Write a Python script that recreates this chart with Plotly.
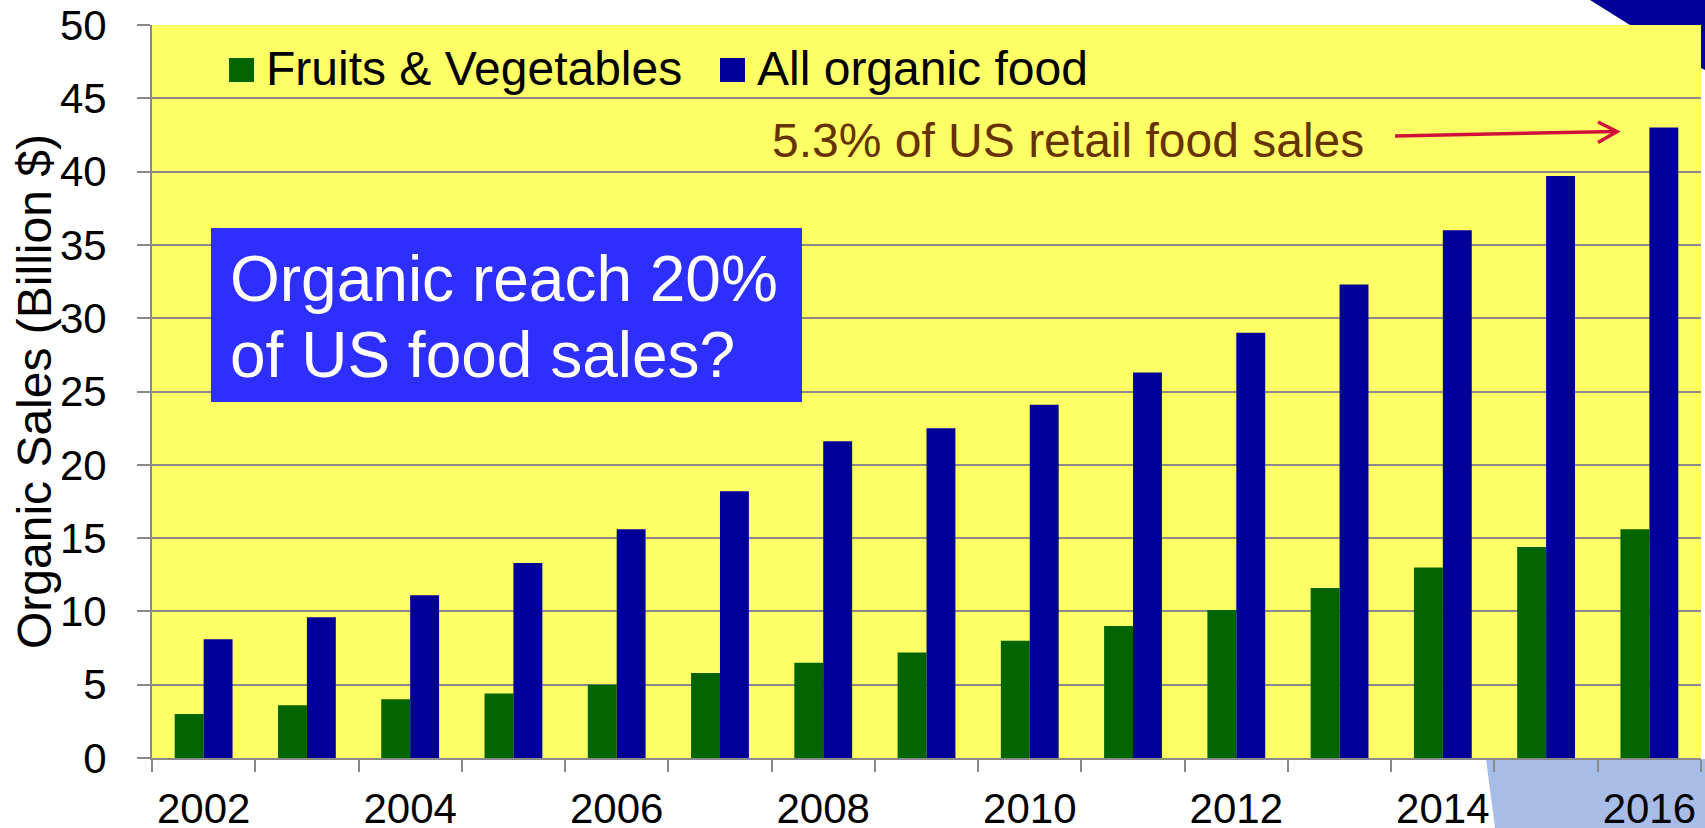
import plotly.graph_objects as go

# ---------------- data ----------------
years = [str(y) for y in range(2002, 2017)]
fruits_veg = [3.0, 3.6, 4.0, 4.4, 5.0, 5.8, 6.5, 7.2, 8.0, 9.0, 10.1, 11.6, 13.0, 14.4, 15.6]
all_organic = [8.1, 9.6, 11.1, 13.3, 15.6, 18.2, 21.6, 22.5, 24.1, 26.3, 29.0, 32.3, 36.0, 39.7, 43.0]
tick_text = [y if int(y) % 2 == 0 else "" for y in years]
y_ticks = list(range(0, 51, 5))

series_names = ["Fruits & Vegetables", "All organic food"]
series_colors = ["#006400", "#000099"]

W, H = 1705, 828
L, R, T, B = 152, 1701, 25, 758
FONT = "Liberation Sans, Arial, sans-serif"


def px(x):
    return (x - L) / (R - L)


def py(y):
    return (B - y) / (B - T)


fig = go.Figure()
for name, vals, col in zip(series_names, [fruits_veg, all_organic], series_colors):
    fig.add_trace(go.Bar(x=years, y=vals, name=name, marker_color=col,
                         marker_line_width=0, showlegend=False))

grid = "#8A8A8A"
fig.update_layout(
    width=W, height=H,
    margin=dict(l=L, r=W - R, t=T, b=H - B, autoexpand=False),
    paper_bgcolor="white",
    plot_bgcolor="#FFFF66",
    barmode="group",
    bargap=0.44,
    bargroupgap=0,
    font=dict(family=FONT, color="black"),
    xaxis=dict(
        type="category",
        tickmode="array", tickvals=years, ticktext=tick_text,
        tickson="boundaries",
        ticks="outside", ticklen=12, tickwidth=2, tickcolor=grid,
        showline=True, linecolor=grid, linewidth=2,
        showgrid=False, automargin=False, tickangle=0,
        tickfont=dict(size=42, family=FONT, color="black"),
        ticklabelstandoff=13,
    ),
    yaxis=dict(
        range=[0, 50],
        tickmode="array", tickvals=y_ticks,
        ticks="outside", ticklen=13, tickwidth=2, tickcolor=grid,
        showline=True, linecolor=grid, linewidth=2,
        showgrid=True, gridcolor=grid, gridwidth=2,
        zeroline=False, automargin=False,
        tickfont=dict(size=42, family=FONT, color="black"),
        ticklabelstandoff=22,
    ),
)

shapes = []
# dark blue corner triangle (top right, outside plot)
shapes.append(dict(type="path", xref="paper", yref="paper", layer="below",
                   path=f"M {px(1590)},{py(0)} L {px(1705)},{py(0)} L {px(1705)},{py(70)} "
                        f"L {px(1701)},{py(68)} L {px(1701)},{py(25)} L {px(1630)},{py(25)} Z",
                   fillcolor="#000099", line=dict(width=0)))
# light blue band bottom right
shapes.append(dict(type="path", xref="paper", yref="paper", layer="below",
                   path=f"M {px(1486)},{py(759)} L {px(1495)},{py(828)} L {px(1705)},{py(828)} "
                        f"L {px(1705)},{py(759)} Z",
                   fillcolor="#A8BCE8", line=dict(width=0)))
# question box
shapes.append(dict(type="rect", xref="paper", yref="paper", layer="above",
                   x0=px(211), x1=px(802), y0=py(228), y1=py(402),
                   fillcolor="#2E2EFF", line=dict(width=0)))
# legend swatches
for x0, col in zip([229, 720], series_colors):
    shapes.append(dict(type="rect", xref="paper", yref="paper", layer="above",
                       x0=px(x0), x1=px(x0 + 25), y0=py(58), y1=py(82),
                       fillcolor=col, line=dict(width=0)))
# red arrow
arrow_col = "#D0103A"
shapes.append(dict(type="line", xref="paper", yref="paper", layer="above",
                   x0=px(1395), y0=py(136), x1=px(1616), y1=py(131.5),
                   line=dict(color=arrow_col, width=3.5)))
shapes.append(dict(type="path", xref="paper", yref="paper", layer="above",
                   path=f"M {px(1598)},{py(122)} L {px(1617)},{py(131.5)} L {px(1598)},{py(142.5)}",
                   line=dict(color=arrow_col, width=3.5)))
fig.update_layout(shapes=shapes)

ann = []
# legend labels
for x0, name in zip([264, 755], series_names):
    ann.append(dict(x=px(x0), y=py(68.5), xref="paper", yref="paper", text=name,
                    showarrow=False, xanchor="left", yanchor="middle",
                    font=dict(size=48, family=FONT, color="black")))
# market share note
ann.append(dict(x=px(1366), y=py(140), xref="paper", yref="paper",
                text="5.3% of US retail food sales", showarrow=False,
                xanchor="right", yanchor="middle",
                font=dict(size=48, family=FONT, color="#663300")))
# box text
for yc, line in zip([279, 355], ["Organic reach 20%", "of US food sales?"]):
    ann.append(dict(x=px(228), y=py(yc), xref="paper", yref="paper", text=line,
                    showarrow=False, xanchor="left", yanchor="middle",
                    font=dict(size=64, family=FONT, color="white")))
# y-axis title
ann.append(dict(x=px(34), y=py(392), xref="paper", yref="paper",
                text="Organic Sales (Billion $)", showarrow=False, textangle=-90,
                xanchor="center", yanchor="middle",
                font=dict(size=48, family=FONT, color="black")))
fig.update_layout(annotations=ann)

fig.write_html("out.html")
